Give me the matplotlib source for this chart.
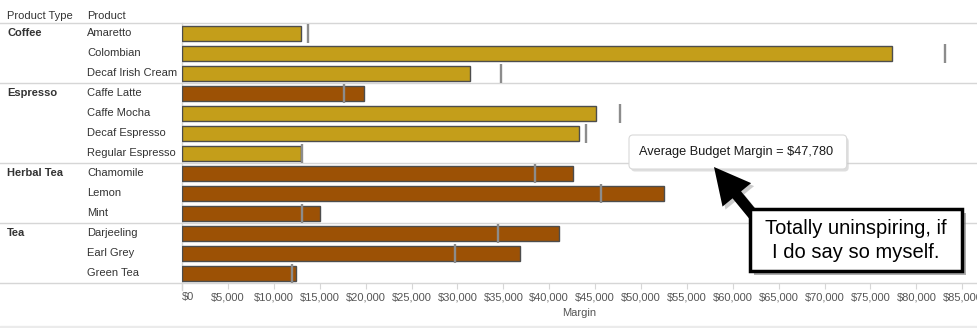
import matplotlib
matplotlib.use("Agg")
import matplotlib.pyplot as plt
from matplotlib import transforms
from matplotlib.patches import FancyBboxPatch, Rectangle, FancyArrow

plt.rcParams['font.family'] = ['Liberation Sans', 'DejaVu Sans']

# ---------------- data ----------------
product_types = ["Coffee", "Coffee", "Coffee",
                 "Espresso", "Espresso", "Espresso", "Espresso",
                 "Herbal Tea", "Herbal Tea", "Herbal Tea",
                 "Tea", "Tea", "Tea"]
products = ["Amaretto", "Colombian", "Decaf Irish Cream",
            "Caffe Latte", "Caffe Mocha", "Decaf Espresso", "Regular Espresso",
            "Chamomile", "Lemon", "Mint",
            "Darjeeling", "Earl Grey", "Green Tea"]
margin = [12960, 77340, 31330,
          19830, 45100, 43250, 13000,
          42590, 52500, 15070,
          41070, 36820, 12420]
budget_margin = [13730, 83150, 34750,
                 17650, 47750, 44040, 13100,
                 38490, 45680, 13070,
                 34420, 29770, 12020]
color_key = ["gold", "gold", "gold",
             "brown", "gold", "gold", "gold",
             "brown", "brown", "brown",
             "brown", "brown", "brown"]
x_ticks = [0, 5000, 10000, 15000, 20000, 25000, 30000, 35000, 40000,
           45000, 50000, 55000, 60000, 65000, 70000, 75000, 80000, 85000]
tooltip_text = "Average Budget Margin = $47,780"
callout_text = "Totally uninspiring, if\nI do say so myself."

palette = {"gold": "#C49E1A", "brown": "#9C5105"}

# ---------------- layout ----------------
W, H = 977, 328
fig = plt.figure(figsize=(W / 100, H / 100), dpi=100)
fig.patch.set_facecolor("white")

ov = fig.add_axes([0, 0, 1, 1], zorder=5)
ov.set_xlim(0, W)
ov.set_ylim(H, 0)
ov.axis("off")
ov.patch.set_alpha(0)

left_px, top_px, row_px = 182, 23.3, 20
n = len(products)
bottom_px = top_px + n * row_px
px_per_dollar = (962 - 181.7) / 85000
ax = fig.add_axes([left_px / W, 1 - bottom_px / H, (W - left_px) / W, n * row_px / H])
ax.set_ylim(n - 0.5, -0.5)
ax.set_xlim(0, (W - left_px) / px_per_dollar)
for s in ax.spines.values():
    s.set_visible(False)
ax.patch.set_alpha(0)

ys = list(range(n))
ax.barh(ys, margin, height=0.78, color=[palette[c] for c in color_key],
        edgecolor="#4d4d4d", linewidth=1.0, zorder=2)
ax.vlines(budget_margin, [y - 0.49 for y in ys], [y + 0.49 for y in ys],
          color="#8c8c8c", linewidth=1.7, zorder=3)

grid_c = "#d6d6d6"
xmin_frac = -left_px / (W - left_px)
bounds = [-0.5] + [i - 0.5 for i in range(1, n) if product_types[i] != product_types[i - 1]] + [n - 0.5]
for b in bounds:
    ax.axhline(b, xmin=xmin_frac, xmax=1, color=grid_c, linewidth=1.0, clip_on=False, zorder=1)
ax.axvline(0, ymin=-7 / (n * row_px), ymax=1, color=grid_c, linewidth=1.0, clip_on=False, zorder=1)

ax.set_yticks([])
ax.set_xticks(x_ticks)
ax.set_xticklabels([f"${v:,.0f}" for v in x_ticks])
ax.tick_params(axis="x", length=4, color=grid_c, labelsize=8, labelcolor="#555555", pad=2.5)
ax.get_xticklabels()[0].set_horizontalalignment("left")

# row labels
tr = transforms.blended_transform_factory(ov.transData, ax.transData)
txt_c = "#333333"
for i, p in enumerate(products):
    fig.text(87, i, p, transform=tr, va="center", ha="left", fontsize=8, color=txt_c)
    if i == 0 or product_types[i] != product_types[i - 1]:
        fig.text(7, i, product_types[i], transform=tr, va="center", ha="left",
                 fontsize=8, color=txt_c, fontweight="bold")

ov.text(7, 16, "Product Type", va="center", ha="left", fontsize=8, color=txt_c)
ov.text(87, 16, "Product", va="center", ha="left", fontsize=8, color=txt_c)
ov.text((left_px + W) / 2, 312.5, "Margin", va="center", ha="center", fontsize=8, color="#555555")

# bottom band
ov.add_patch(Rectangle((0, 325.5), W, 3, color="#ebebeb", zorder=1))

# tooltip
ov.add_patch(FancyBboxPatch((631, 137.5), 217.7, 34, boxstyle="round,pad=0,rounding_size=4",
                            fc="#c8c8c8", ec="none", alpha=0.6, zorder=2))
ov.add_patch(FancyBboxPatch((629, 135), 217.7, 34, boxstyle="round,pad=0,rounding_size=4",
                            fc="white", ec="#d9d9d9", lw=0.8, zorder=3))
ov.text(736, 152.5, tooltip_text, va="center", ha="center", fontsize=9.2, color="#1a1a1a", zorder=4)

# arrow
tip = (714, 167)
tail = (764, 228)
ov.add_patch(FancyArrow(tail[0] + 3, tail[1] + 3, tip[0] - tail[0], tip[1] - tail[1], width=11,
                        head_width=37, head_length=36, length_includes_head=True,
                        fc="#9a9a9a", ec="none", alpha=0.5, zorder=4))
ov.add_patch(FancyArrow(tail[0], tail[1], tip[0] - tail[0], tip[1] - tail[1], width=11,
                        head_width=37, head_length=36, length_includes_head=True,
                        fc="black", ec="none", zorder=5))

# callout box
bx, by, bw, bh = 750, 209.3, 211.7, 61.7
ov.add_patch(Rectangle((bx + 4, by + 4), bw, bh, fc="#777777", ec="none", alpha=0.6, zorder=6))
ov.add_patch(Rectangle((bx, by), bw, bh, fc="white", ec="black", lw=2.5, zorder=7))
ov.text(bx + bw / 2, by + bh / 2 + 0.5, callout_text, va="center", ha="center", fontsize=14.5,
        linespacing=1.35, color="black", zorder=8)

fig.savefig("out.png", dpi=100, facecolor="white")
